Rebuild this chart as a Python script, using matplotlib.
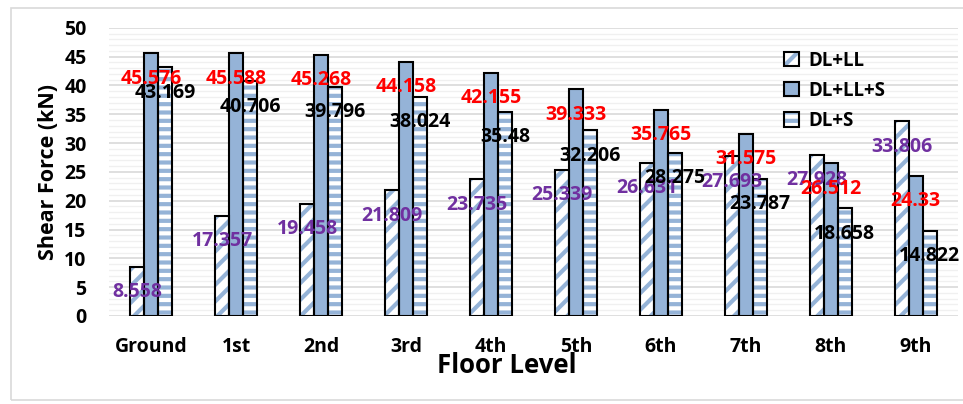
import matplotlib
matplotlib.use("Agg")
import matplotlib.pyplot as plt
import numpy as np
from matplotlib.patches import Patch, Rectangle

# data
floors = ['Ground', '1st', '2nd', '3rd', '4th', '5th', '6th', '7th', '8th', '9th']
dl_ll = [8.558, 17.357, 19.458, 21.809, 23.735, 25.339, 26.631, 27.693, 27.928, 33.806]
dl_ll_s = [45.576, 45.588, 45.268, 44.158, 42.155, 39.333, 35.765, 31.575, 26.512, 24.33]
dl_s = [43.169, 40.706, 39.796, 38.024, 35.48, 32.206, 28.275, 23.787, 18.658, 14.822]

blue = '#95B3D7'
plt.rcParams['font.family'] = ['Open Sans', 'DejaVu Sans']
plt.rcParams['font.weight'] = 'bold'
plt.rcParams['hatch.linewidth'] = 3.0

fig = plt.figure(figsize=(9.63, 4.04), dpi=100)
ax = fig.add_axes([0.113, 0.218, 0.882, 0.713])
fig.patches.append(Rectangle((0.011, 0.01), 1.2, 0.97, transform=fig.transFigure,
                             fill=False, edgecolor='#D9D9D9', linewidth=1.2))

x = np.arange(len(floors))
w = 0.165

series = [
    (dl_ll, -w, '//', 'white', '#7030A0', 'DL+LL'),
    (dl_ll_s, 0, None, blue, 'red', 'DL+LL+S'),
    (dl_s, w, '--', 'white', 'black', 'DL+S'),
]

handles = []
for vals, off, hatch, face, lab_col, name in series:
    if hatch:
        ax.bar(x + off, vals, w, color=face, edgecolor=blue, hatch=hatch, linewidth=0, zorder=2)
        h1 = Patch(facecolor=face, edgecolor=blue, hatch=hatch, linewidth=0)
    else:
        ax.bar(x + off, vals, w, color=face, linewidth=0, zorder=2)
        h1 = Patch(facecolor=face, linewidth=0)
    ax.bar(x + off, vals, w, fill=False, edgecolor='black', linewidth=1.5, zorder=3)
    h2 = Patch(fill=False, edgecolor='black', linewidth=1.5)
    handles.append((h1, h2))
    for xi, v in zip(x + off, vals):
        ax.text(xi, v - 4.4, f'{v:g}', ha='center', va='center', color=lab_col,
                fontsize=14, fontweight='bold', zorder=5)

ax.set_xlim(-0.5, 9.5)
ax.set_ylim(0, 50)
ax.set_yticks(np.arange(0, 51, 5))
ax.set_yticks(np.arange(0, 51, 1), minor=True)
ax.grid(axis='y', which='major', color='#D9D9D9', linewidth=1.2, zorder=0)
ax.grid(axis='y', which='minor', color='#F0F0F0', linewidth=1.0, zorder=0)
ax.set_axisbelow(True)
for s in ax.spines.values():
    s.set_visible(False)
ax.set_xticks(x)
ax.set_xticklabels(floors)
ax.tick_params(axis='both', which='both', length=0, labelsize=14)
ax.tick_params(axis='x', pad=15)
ax.tick_params(axis='y', pad=16)

ax.set_xlabel('Floor Level', fontsize=18.5, fontweight='bold')
ax.xaxis.set_label_coords(0.468, -0.125)
ax.set_ylabel('Shear Force (kN)', fontsize=15.5, fontweight='bold', labelpad=4)

ax.legend(handles=handles, labels=[s[5] for s in series], loc='upper left',
          bbox_to_anchor=(0.775, 0.98), frameon=False, fontsize=13.5,
          handlelength=0.8, handleheight=0.8, handletextpad=0.5, labelspacing=0.55)

fig.savefig('out.png', dpi=100)
